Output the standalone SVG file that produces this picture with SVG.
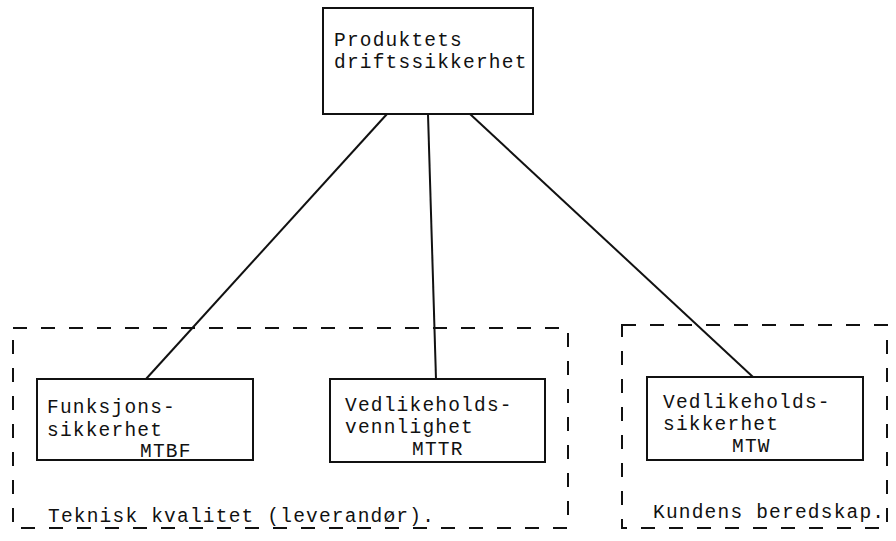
<svg xmlns="http://www.w3.org/2000/svg" width="896" height="541" viewBox="0 0 896 541">
<style>
.box{fill:#fff;stroke:#111;stroke-width:2}
.grp{fill:none;stroke:#111;stroke-width:2;stroke-dasharray:14 14}
.t{font-family:"Liberation Mono","DejaVu Sans Mono",monospace;font-size:19.5px;letter-spacing:1.2px;fill:#111}
.c{stroke:#111;stroke-width:2;fill:none}
</style>
<rect width="896" height="541" fill="#fff"/>
<g id="group-teknisk">
<rect class="grp" x="13" y="328" width="555" height="200"/>
<text class="t" x="48" y="522">Teknisk kvalitet (leverandør).</text>
</g>
<g id="group-kunde">
<rect class="grp" x="622" y="325" width="265" height="203"/>
<text class="t" x="653" y="518">Kundens beredskap.</text>
</g>
<g id="connectors">
<line class="c" x1="387" y1="114" x2="146" y2="379"/>
<line class="c" x1="428" y1="114" x2="436" y2="379"/>
<line class="c" x1="470" y1="114" x2="753" y2="377"/>
</g>
<g id="node-top">
<rect class="box" x="323" y="8" width="210" height="106"/>
<text class="t" x="334" y="46">Produktets</text>
<text class="t" x="334" y="68">driftssikkerhet</text>
</g>
<g id="node-mtbf">
<rect class="box" x="37" y="379" width="216" height="81"/>
<text class="t" x="47" y="413">Funksjons-</text>
<text class="t" x="47" y="436">sikkerhet</text>
<text class="t" x="140" y="457">MTBF</text>
</g>
<g id="node-mttr">
<rect class="box" x="330" y="379" width="215" height="83"/>
<text class="t" x="345" y="411">Vedlikeholds-</text>
<text class="t" x="345" y="433">vennlighet</text>
<text class="t" x="412" y="455">MTTR</text>
</g>
<g id="node-mtw">
<rect class="box" x="647" y="377" width="216" height="83"/>
<text class="t" x="663" y="408">Vedlikeholds-</text>
<text class="t" x="663" y="430">sikkerhet</text>
<text class="t" x="732" y="452">MTW</text>
</g>
</svg>
